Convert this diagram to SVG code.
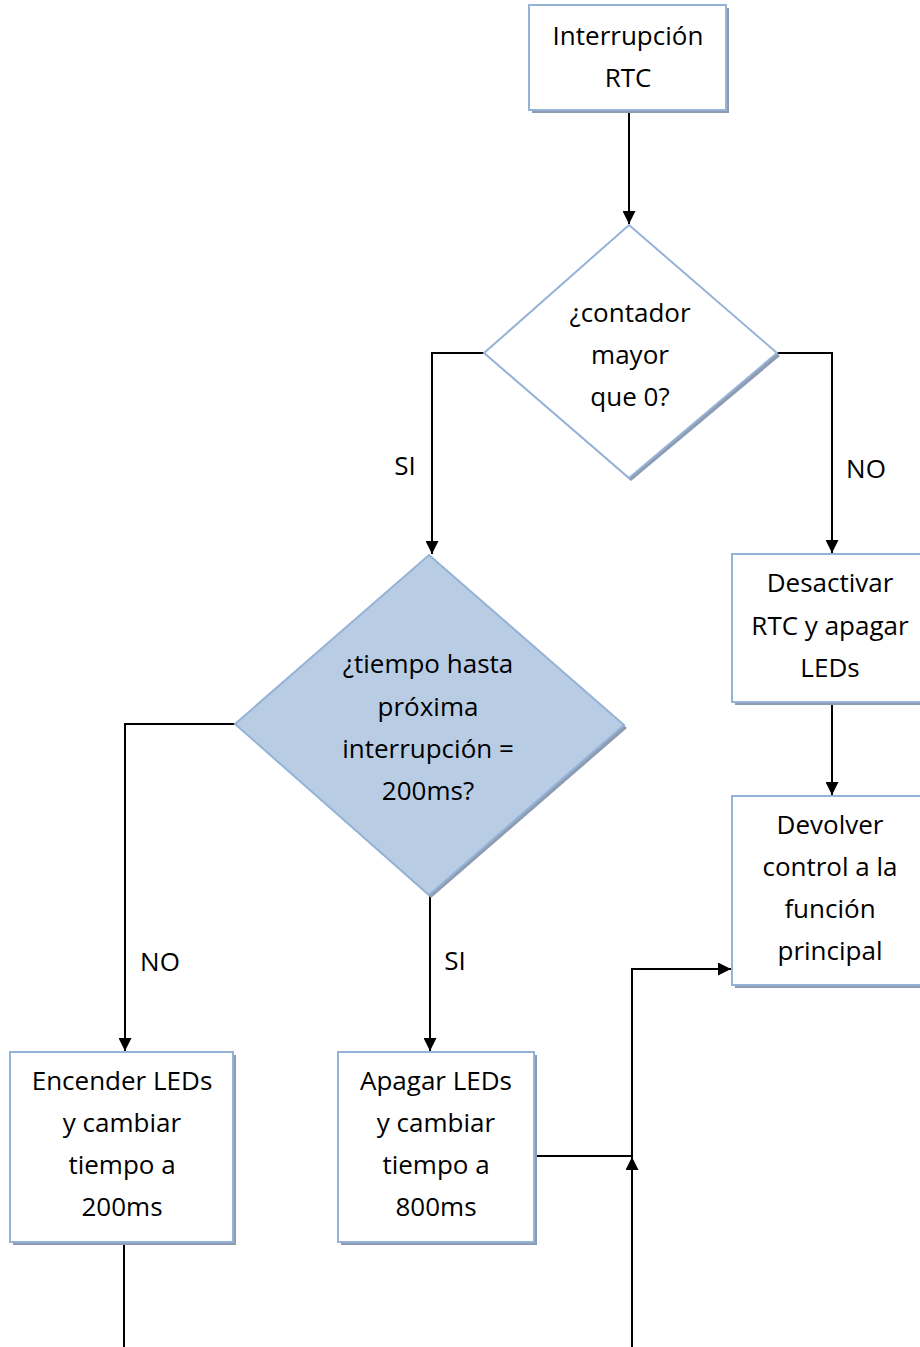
<svg xmlns="http://www.w3.org/2000/svg" width="920" height="1347" viewBox="0 0 920 1347">
  <style>
    .box { fill: #ffffff; stroke: #95b3d7; stroke-width: 2; }
    .dec { stroke: #95b3d7; stroke-width: 2; }
    .shadow { fill: #8e9cb1; stroke: none; }
    .lbl { font-family: "Open Sans", "Liberation Sans", sans-serif; font-size: 26px; fill: #000000; text-anchor: middle; }
    .edge { fill: none; stroke: #000000; stroke-width: 2; }
  </style>
  <defs>
    <marker id="arrow" viewBox="0 0 10 10" refX="10" refY="5" markerWidth="13" markerHeight="13" markerUnits="userSpaceOnUse" orient="auto">
      <path d="M0,0 L10,5 L0,10 z" fill="#000000"/>
    </marker>
  </defs>

  <rect width="920" height="1347" fill="#ffffff"/>

  <!-- connectors -->
  <g id="connectors">
    <path class="edge" d="M629,110 L629,224" marker-end="url(#arrow)"/>
    <path class="edge" d="M484,353 L432,353 L432,554" marker-end="url(#arrow)"/>
    <path class="edge" d="M777,353 L832,353 L832,553" marker-end="url(#arrow)"/>
    <path class="edge" d="M832,702 L832,795" marker-end="url(#arrow)"/>
    <path class="edge" d="M235,724 L125,724 L125,1051" marker-end="url(#arrow)"/>
    <path class="edge" d="M430,895 L430,1051" marker-end="url(#arrow)"/>
    <path class="edge" d="M534,1156 L632,1156 L632,969 L731,969" marker-end="url(#arrow)"/>
    <path class="edge" d="M632,1347 L632,1157" marker-end="url(#arrow)"/>
    <path class="edge" d="M124,1242 L124,1347"/>
    <text class="lbl" x="405" y="475">SI</text>
    <text class="lbl" x="866" y="478">NO</text>
    <text class="lbl" x="160" y="971">NO</text>
    <text class="lbl" x="455" y="970">SI</text>
  </g>

  <g id="start">
    <rect class="shadow" x="532" y="8" width="197" height="105"/>
    <rect class="box" x="529" y="5" width="197" height="105"/>
    <text class="lbl" x="628" y="45">Interrupción</text>
    <text class="lbl" x="628" y="87">RTC</text>
  </g>

  <g id="check-counter">
    <polygon class="shadow" points="630,228 780,356 631,481 487,356"/>
    <polygon class="dec" fill="#ffffff" points="629,225 777,353 629,478 484,353"/>
    <text class="lbl" x="630" y="322">¿contador</text>
    <text class="lbl" x="630" y="364">mayor</text>
    <text class="lbl" x="630" y="406">que 0?</text>
  </g>

  <g id="check-time">
    <polygon class="shadow" points="430,558 627,728 431,898 238,727"/>
    <polygon class="dec" fill="#b8cce4" points="429,555 624,725 429,895 235,724"/>
    <text class="lbl" x="428" y="673">¿tiempo hasta</text>
    <text class="lbl" x="428" y="716">próxima</text>
    <text class="lbl" x="428" y="758">interrupción =</text>
    <text class="lbl" x="428" y="800">200ms?</text>
  </g>

  <g id="disable-rtc">
    <rect class="shadow" x="735" y="557" width="200" height="148"/>
    <rect class="box" x="732" y="554" width="200" height="148"/>
    <text class="lbl" x="830" y="592">Desactivar</text>
    <text class="lbl" x="830" y="635">RTC y apagar</text>
    <text class="lbl" x="830" y="677">LEDs</text>
  </g>

  <g id="return-control">
    <rect class="shadow" x="735" y="799" width="200" height="189"/>
    <rect class="box" x="732" y="796" width="200" height="189"/>
    <text class="lbl" x="830" y="834">Devolver</text>
    <text class="lbl" x="830" y="876">control a la</text>
    <text class="lbl" x="830" y="918">función</text>
    <text class="lbl" x="830" y="960">principal</text>
  </g>

  <g id="leds-on">
    <rect class="shadow" x="13" y="1055" width="223" height="190"/>
    <rect class="box" x="10" y="1052" width="223" height="190"/>
    <text class="lbl" x="122" y="1090">Encender LEDs</text>
    <text class="lbl" x="122" y="1132">y cambiar</text>
    <text class="lbl" x="122" y="1174">tiempo a</text>
    <text class="lbl" x="122" y="1216">200ms</text>
  </g>

  <g id="leds-off">
    <rect class="shadow" x="341" y="1055" width="196" height="190"/>
    <rect class="box" x="338" y="1052" width="196" height="190"/>
    <text class="lbl" x="436" y="1090">Apagar LEDs</text>
    <text class="lbl" x="436" y="1132">y cambiar</text>
    <text class="lbl" x="436" y="1174">tiempo a</text>
    <text class="lbl" x="436" y="1216">800ms</text>
  </g>
</svg>
